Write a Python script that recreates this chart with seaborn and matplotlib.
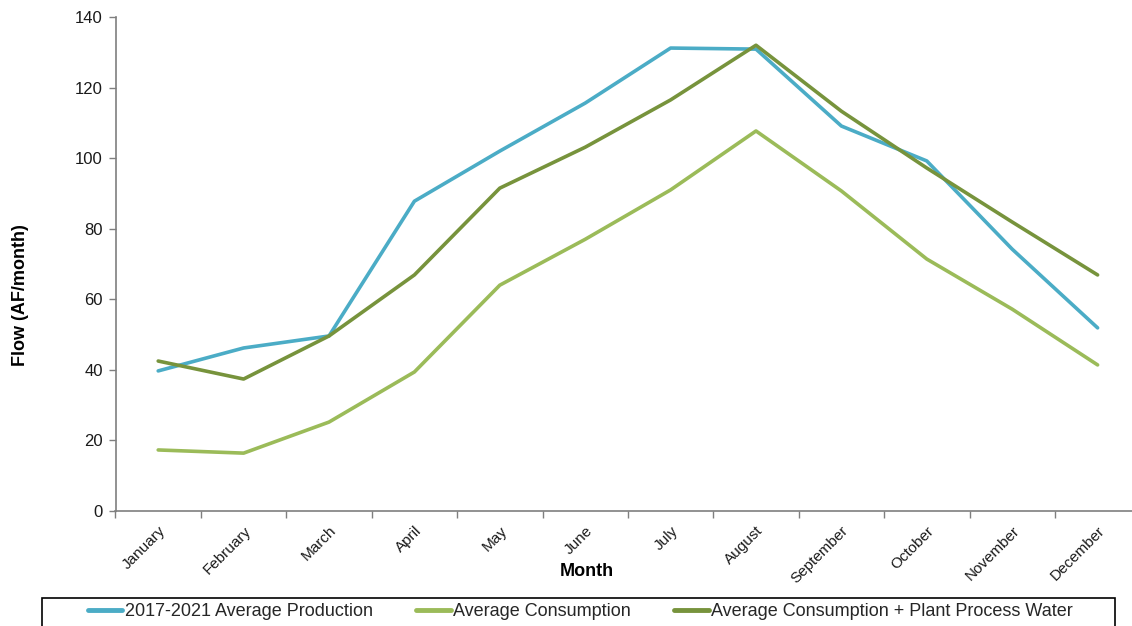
import matplotlib
matplotlib.use("Agg")
import matplotlib.pyplot as plt
from matplotlib.patches import Rectangle
from matplotlib.ticker import FixedLocator
import pandas as pd
import seaborn as sns

months = ["January", "February", "March", "April", "May", "June", "July",
          "August", "September", "October", "November", "December"]
production = [39.7, 46.2, 49.6, 87.8, 102.0, 115.6, 131.2, 130.9, 109.1, 99.2, 74.2, 51.9]
consumption = [17.3, 16.4, 25.2, 39.4, 64.0, 77.0, 91.0, 107.7, 90.7, 71.4, 57.2, 41.4]
consumption_ppw = [42.5, 37.4, 49.6, 66.9, 91.5, 103.1, 116.5, 132.0, 113.3, 97.2, 81.9, 66.9]

series_names = ["2017-2021 Average Production", "Average Consumption",
                "Average Consumption + Plant Process Water"]
series_colors = ["#4BACC6", "#9BBB59", "#77933C"]
y_ticks = [0, 20, 40, 60, 80, 100, 120, 140]

frames = []
for name, vals in zip(series_names, [production, consumption, consumption_ppw]):
    frames.append(pd.DataFrame({"Month": months, "Flow": vals, "Series": name}))
df = pd.concat(frames, ignore_index=True)

sns.set_theme(style="white")
plt.rcParams["font.family"] = ["Liberation Sans", "DejaVu Sans"]

W, H = 1132, 626
fig = plt.figure(figsize=(W / 100, H / 100), dpi=100)
ax_left, ax_top, ax_bottom = 115.5, 17, 511
ax_width = 12 * 85.4
ax_height = ax_bottom - ax_top
ax = fig.add_axes([ax_left / W, 1 - ax_bottom / H, ax_width / W, ax_height / H])

sns.lineplot(data=df, x="Month", y="Flow", hue="Series", palette=series_colors,
             hue_order=series_names, sort=False, linewidth=2.6, ax=ax, legend=False)

ax.set_xlim(-0.5, 11.5)
ax.set_ylim(0, 140)
ax.set_yticks(y_ticks)
ax.set_yticklabels([str(v) for v in y_ticks], fontsize=12, color="#1a1a1a")

ax.set_xticks(range(len(months)))
ax.set_xticklabels(months, rotation=45, ha="right", rotation_mode="anchor",
                   fontsize=11, color="#1a1a1a")
ax.xaxis.set_minor_locator(FixedLocator([i - 0.5 for i in range(len(months) + 1)]))
ax.tick_params(axis="x", which="major", length=0, pad=9)
ax.tick_params(axis="x", which="minor", length=5, width=1, color="#7f7f7f", direction="out", bottom=True)
ax.tick_params(axis="y", which="major", length=5, width=1, color="#7f7f7f", direction="out", left=True, pad=4)

for side in ["top", "right"]:
    ax.spines[side].set_visible(False)
for side in ["left", "bottom"]:
    ax.spines[side].set_color("#7f7f7f")
    ax.spines[side].set_linewidth(1.2)

ax.set_xlabel("Month", fontsize=13, fontweight="bold", color="black")
ax.set_ylabel("Flow (AF/month)", fontsize=13, fontweight="bold", color="black")
ax.xaxis.set_label_coords((587 - ax_left) / ax_width, -(563 - ax_bottom) / ax_height)
ax.yaxis.set_label_coords(-(ax_left - 29) / ax_width, (ax_bottom - 295) / ax_height)

# legend frame across the bottom
fig.patches.append(Rectangle((42 / W, 0 - 20 / H), (1115 - 42) / W, (626 - 598 + 20) / H,
                             transform=fig.transFigure, fill=False, edgecolor="black",
                             linewidth=1.2, zorder=5))
handles = [plt.Line2D([], [], color=c, linewidth=3.5) for c in series_colors]
fig.legend(handles, series_names, loc="center left", ncol=3, frameon=False,
           bbox_to_anchor=(88 / W, 1 - 612 / H), fontsize=13, handlelength=1.9,
           handletextpad=0.15, columnspacing=2.4, borderpad=0, borderaxespad=0)

fig.savefig("out.png", dpi=100)
